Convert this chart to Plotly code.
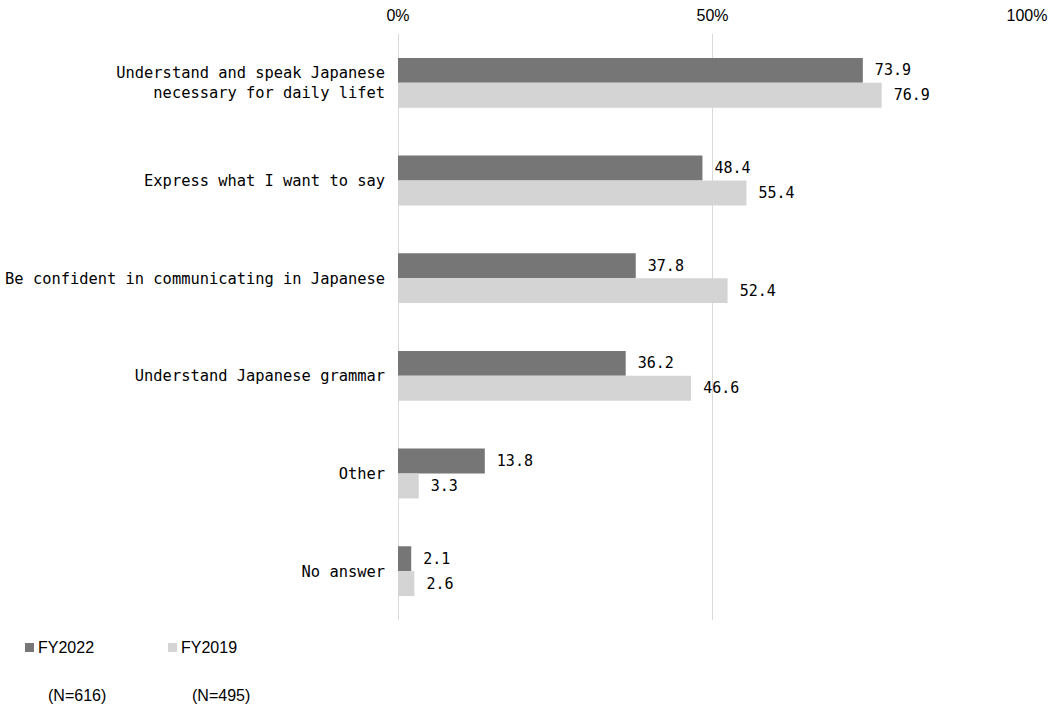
import plotly.graph_objects as go

categories = [
    "Understand and speak Japanese<br>necessary for daily lifet",
    "Express what I want to say",
    "Be confident in communicating in Japanese",
    "Understand Japanese grammar",
    "Other",
    "No answer",
]
fy2022 = [73.9, 48.4, 37.8, 36.2, 13.8, 2.1]
fy2019 = [76.9, 55.4, 52.4, 46.6, 3.3, 2.6]
series_names = ["FY2022", "FY2019"]
series_colors = ["#767676", "#d4d4d4"]
n_labels = ["(N=616)", "(N=495)"]
x_ticks = [0, 50, 100]
x_tick_labels = ["0%", "50%", "100%"]

W, H = 1051, 707
L, R, T, B = 398, 24, 34, 87
pw = W - L - R
ph = H - T - B


def px_x(page_x):
    return (page_x - L) / pw


def px_y(page_y):
    return 1 - (page_y - T) / ph


mono = "DejaVu Sans Mono, Liberation Mono, monospace"
sans = "Liberation Sans, Arial, sans-serif"

fig = go.Figure()
for name, vals, color in zip(series_names, [fy2022, fy2019], series_colors):
    fig.add_trace(go.Bar(
        y=categories, x=vals, name=name, orientation="h",
        marker=dict(color=color, line=dict(width=0)),
        text=[f"{v:.1f}" for v in vals], textposition="outside",
        texttemplate=" %{text}",
        textfont=dict(family=mono, size=15, color="#000000"),
        cliponaxis=False, showlegend=False,
    ))

fig.update_layout(
    width=W, height=H,
    margin=dict(l=L, r=R, t=T, b=B, autoexpand=False),
    paper_bgcolor="white", plot_bgcolor="white",
    barmode="group", bargap=0.49, bargroupgap=0,
    showlegend=False,
    xaxis=dict(
        side="top", range=[0, 100], tickvals=x_ticks, ticktext=x_tick_labels,
        showgrid=True, gridcolor="#d9d9d9", gridwidth=1,
        zeroline=True, zerolinecolor="#d9d9d9", zerolinewidth=1,
        showline=False, ticks="",
        tickfont=dict(family="Liberation Sans Narrow, Liberation Sans, Arial, sans-serif", size=16, color="#000000"),
        ticklabelstandoff=9,
        fixedrange=True,
    ),
    yaxis=dict(
        autorange="reversed", showgrid=False, zeroline=False, showline=False, ticks="",
        tickfont=dict(family=mono, size=15.4, color="#000000"),
        ticklabelstandoff=12,
    ),
)

# legend drawn as small squares + labels
legend_marker_x = [25, 168]
for i, (name, color) in enumerate(zip(series_names, series_colors)):
    x0 = legend_marker_x[i]
    fig.add_shape(
        type="rect", xref="paper", yref="paper",
        x0=px_x(x0), x1=px_x(x0 + 9), y0=px_y(652), y1=px_y(643),
        fillcolor=color, line=dict(width=0),
    )
    fig.add_annotation(
        text=name, xref="paper", yref="paper",
        x=px_x(x0 + 11), xanchor="left", y=px_y(647), yanchor="middle",
        showarrow=False, font=dict(family=sans, size=16, color="#000000"),
    )

n_x = [46, 190]
for i, t in enumerate(n_labels):
    fig.add_annotation(
        text=t, xref="paper", yref="paper",
        x=px_x(n_x[i]), xanchor="left",
        y=px_y(695), yanchor="middle",
        showarrow=False,
        font=dict(family=sans, size=16, color="#000000"),
    )

fig.write_html(
    "out.html",
    config={"displayModeBar": False},
    post_script="document.body.style.margin='0';document.body.style.overflow='hidden';",
)
